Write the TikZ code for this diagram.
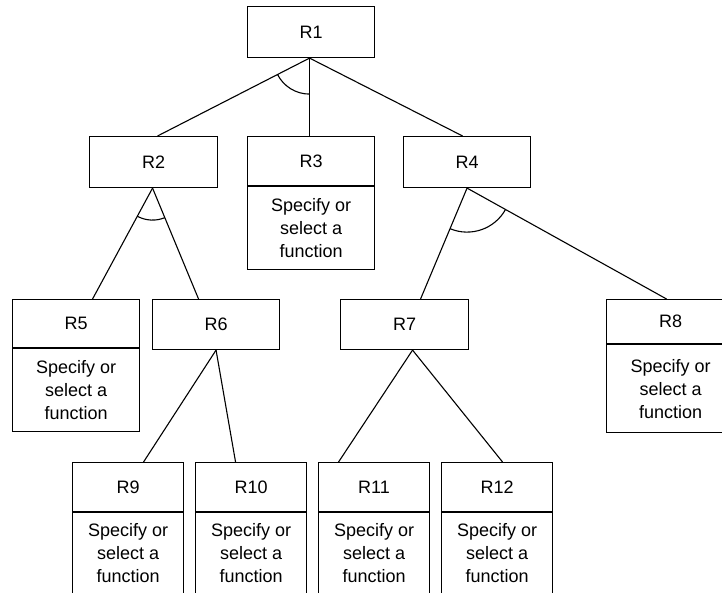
\documentclass[tikz,border=0pt]{standalone}
\usepackage{fontspec}
\setmainfont{Liberation Sans}
\usetikzlibrary{calc}
\newcommand\andarc[4]{%
  \draw let \p1=($(#2)-(#1)$), \p2=($(#3)-(#1)$),
    \n1={atan2(\y1,\x1)}, \n2={atan2(\y2,\x2)} in
    ($(#1)!#4!(#2)$) arc[start angle=\n1, end angle=\n2, radius=#4];}
\begin{document}
\begin{tikzpicture}[x=1pt,y=-1pt,line width=1.1pt,
  hdr/.style={draw, inner sep=0pt, anchor=north west, font=\fontsize{18}{23}\selectfont},
  bodybox/.style={draw, inner sep=0pt, anchor=north, align=center, font=\fontsize{18}{23}\selectfont},
  conn/.style={line width=1.1pt}]
\useasboundingbox (0,0) rectangle (722,593);
% top level
\node[hdr, minimum width=127pt, minimum height=51pt] (R1) at (247,6) {R1};
% second level
\node[hdr, minimum width=128pt, minimum height=51pt] (R2) at (89,136) {R2};
\node[hdr, minimum width=127pt, minimum height=49pt] (R3) at (247,136) {R3};
\node[bodybox, minimum width=127pt, minimum height=83pt] (R3b) at (R3.south) {Specify or\\select a\\function};
\node[hdr, minimum width=127pt, minimum height=51pt] (R4) at (403,136) {R4};
% third level
\node[hdr, minimum width=127pt, minimum height=48pt] (R5) at (12,299) {R5};
\node[bodybox, minimum width=127pt, minimum height=83pt] (R5b) at (R5.south) {Specify or\\select a\\function};
\node[hdr, minimum width=127pt, minimum height=50pt] (R6) at (152,299) {R6};
\node[hdr, minimum width=128pt, minimum height=50pt] (R7) at (340,299) {R7};
\node[hdr, minimum width=128pt, minimum height=44pt] (R8) at (606,299) {R8};
\node[bodybox, minimum width=128pt, minimum height=88pt] (R8b) at (R8.south) {Specify or\\select a\\function};
% fourth level
\node[hdr, minimum width=111pt, minimum height=49pt] (R9) at (72,462) {R9};
\node[bodybox, minimum width=111pt, minimum height=81pt] (R9b) at (R9.south) {Specify or\\select a\\function};
\node[hdr, minimum width=111pt, minimum height=49pt] (R10) at (195,462) {R10};
\node[bodybox, minimum width=111pt, minimum height=81pt] (R10b) at (R10.south) {Specify or\\select a\\function};
\node[hdr, minimum width=111pt, minimum height=49pt] (R11) at (318,462) {R11};
\node[bodybox, minimum width=111pt, minimum height=81pt] (R11b) at (R11.south) {Specify or\\select a\\function};
\node[hdr, minimum width=111pt, minimum height=49pt] (R12) at (441,462) {R12};
\node[bodybox, minimum width=111pt, minimum height=81pt] (R12b) at (R12.south) {Specify or\\select a\\function};
% connector end points
\coordinate (c1) at ([xshift=-1.5pt]R1.south);
\coordinate (t2) at ([xshift=4pt]R2.north);
\coordinate (t3) at ([xshift=-1.5pt]R3.north);
\coordinate (t4) at ([xshift=-4.5pt]R4.north);
\coordinate (c2) at ([xshift=-1pt]R2.south);
\coordinate (t5) at ([xshift=16.5pt]R5.north);
\coordinate (t6) at ([xshift=-17.5pt]R6.north);
\coordinate (c4) at (R4.south);
\coordinate (t7) at ([xshift=16pt]R7.north);
\coordinate (t8) at ([xshift=-4pt]R8.north);
\coordinate (c6) at (R6.south);
\coordinate (t9) at ([xshift=15.5pt]R9.north);
\coordinate (t10) at ([xshift=-15.5pt]R10.north);
\coordinate (c7) at ([xshift=8pt]R7.south);
\coordinate (t11) at ([xshift=-35.5pt]R11.north);
\coordinate (t12) at ([xshift=5.5pt]R12.north);
% connectors
\draw[conn] (c1) -- (t2);
\draw[conn] (c1) -- (t3);
\draw[conn] (c1) -- (t4);
\draw[conn] (c2) -- (t5);
\draw[conn] (c2) -- (t6);
\draw[conn] (c4) -- (t7);
\draw[conn] (c4) -- (t8);
\draw[conn] (c6) -- (t9);
\draw[conn] (c6) -- (t10);
\draw[conn] (c7) -- (t11);
\draw[conn] (c7) -- (t12);
% AND arcs
\andarc{c1}{t2}{t3}{36pt}
\andarc{c2}{t5}{t6}{32pt}
\andarc{c4}{t7}{t8}{44pt}
\end{tikzpicture}
\end{document}
